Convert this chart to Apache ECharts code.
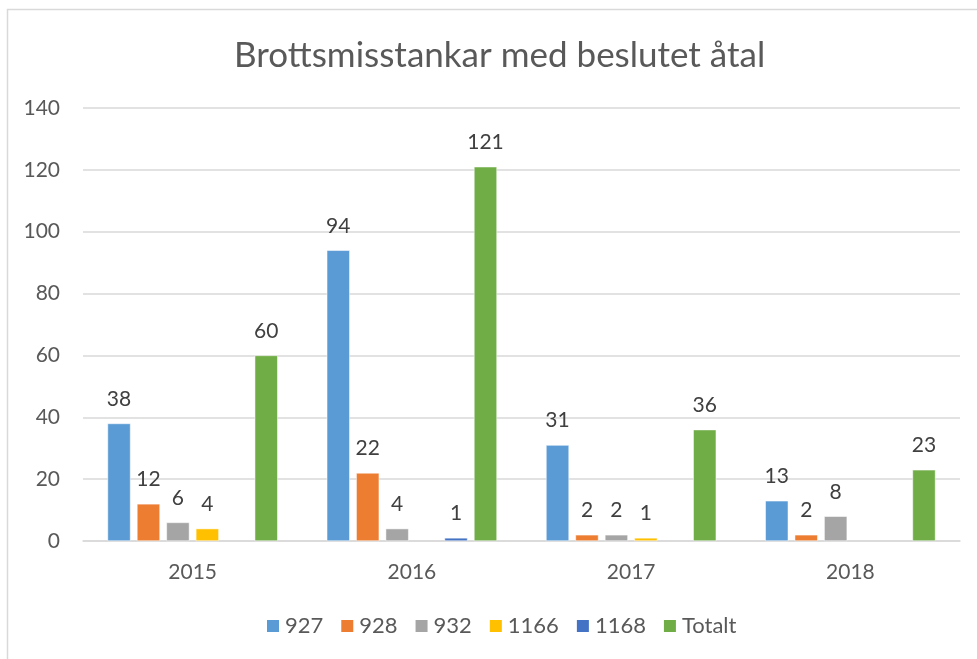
<!DOCTYPE html>
<html>
<head>
<meta charset="utf-8">
<script src="https://cdn.jsdelivr.net/npm/echarts@6/dist/echarts.min.js"></script>
<style>
  html, body { margin: 0; padding: 0; background: #fff; }
  #chart { width: 977px; height: 659px; }
</style>
</head>
<body>
<div id="chart"></div>
<script>
var years = ["2015", "2016", "2017", "2018"];
var s927 = [38, 94, 31, 13];
var s928 = [12, 22, 2, 2];
var s932 = [6, 4, 2, 8];
var s1166 = [4, null, 1, null];
var s1168 = [null, 1, null, null];
var totalt = [60, 121, 36, 23];

var seriesNames = ["927", "928", "932", "1166", "1168", "Totalt"];
var seriesData = [s927, s928, s932, s1166, s1168, totalt];
var colors = ["#5B9BD5", "#ED7D31", "#A5A5A5", "#FFC000", "#4472C4", "#70AD47"];

var font = "Lato, 'Open Sans', sans-serif";

var myChart = echarts.init(document.getElementById("chart"));
var option = {
  animation: false,
  color: colors,
  textStyle: { fontFamily: font },
  title: {
    text: "Brottsmisstankar med beslutet åtal",
    left: 229,
    top: 33,
    textStyle: { color: "#595959", fontSize: 35, fontWeight: "normal", fontFamily: font }
  },
  graphic: [{
    type: "rect",
    shape: { x: 7.5, y: 9.5, width: 1000, height: 700 },
    style: { fill: "none", stroke: "#D9D9D9", lineWidth: 1.5 },
    silent: true
  }],
  grid: { left: 83, right: 17, top: 108, bottom: 118 },
  legend: {
    bottom: 17,
    left: 260,
    icon: "rect",
    itemWidth: 14,
    itemHeight: 14,
    itemGap: 16,
    textStyle: { color: "#595959", fontSize: 22, fontFamily: font }
  },
  xAxis: {
    type: "category",
    data: years,
    axisTick: { show: false },
    axisLine: { lineStyle: { color: "#D9D9D9", width: 1.5 } },
    axisLabel: { color: "#595959", fontSize: 21, margin: 21, fontFamily: font }
  },
  yAxis: {
    type: "value",
    min: 0,
    max: 140,
    interval: 20,
    axisLine: { show: false },
    axisTick: { show: false },
    splitLine: { lineStyle: { color: "#D9D9D9", width: 1.5 } },
    axisLabel: { color: "#595959", fontSize: 21, margin: 23, fontFamily: font }
  },
  series: seriesNames.map(function (name, i) {
    return {
      name: name,
      type: "bar",
      data: seriesData[i],
      barWidth: 23,
      barGap: "28%",
      itemStyle: { borderColor: "#fff", borderWidth: 0.5 },
      label: {
        show: true,
        position: "top",
        distance: 14,
        color: "#404040",
        fontSize: 21,
        fontFamily: font
      }
    };
  })
};
myChart.setOption(option);
</script>
</body>
</html>
